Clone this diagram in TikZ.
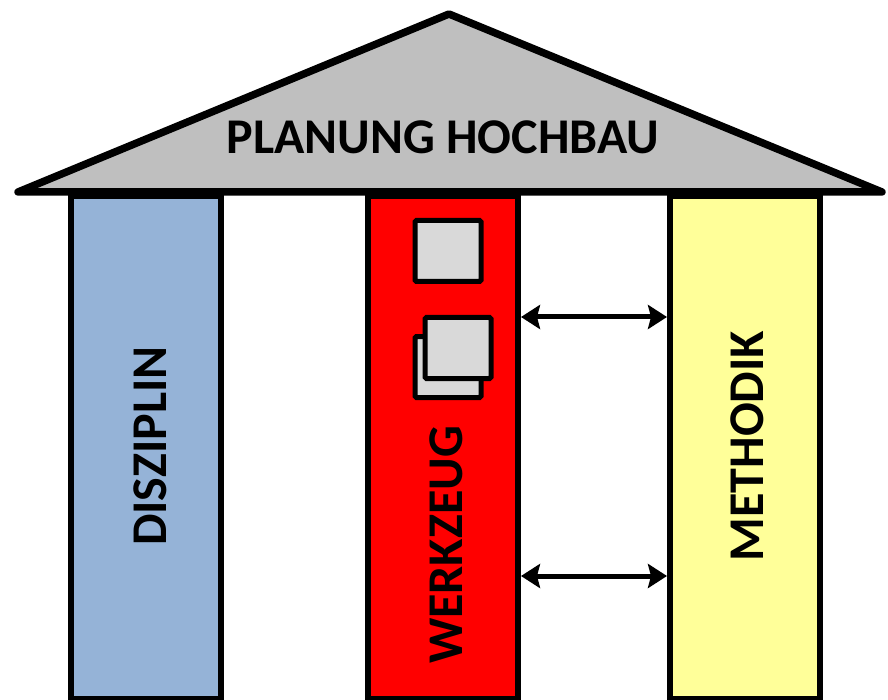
\documentclass[tikz,border=0pt]{standalone}
\usepackage{fontspec}
\setmainfont{Carlito}
\usetikzlibrary{arrows.meta}
\definecolor{roofgray}{HTML}{BFBFBF}
\definecolor{colblue}{HTML}{95B3D7}
\definecolor{colred}{HTML}{FF0000}
\definecolor{colyellow}{HTML}{FFFF99}
\definecolor{sqgray}{HTML}{D9D9D9}
\tikzset{
  col/.style={draw=black, line width=6pt, minimum width=150pt, minimum height=502pt, inner sep=0pt},
  lbl/.style={font=\fontsize{50}{50}\selectfont\bfseries, text=black, inner sep=0pt},
  sq/.style={draw=black, line width=5pt, fill=sqgray, rounded corners=1.5pt, minimum width=66pt, minimum height=61pt, inner sep=0pt},
  arr/.style={line width=5pt, {Stealth[width=24pt,length=19pt,inset=3pt]}-{Stealth[width=24pt,length=19pt,inset=3pt]}, shorten <=0pt, shorten >=0pt}
}
\begin{document}
\begin{tikzpicture}[x=1pt,y=-1pt]
\useasboundingbox (0,0) rectangle (888,700);
% columns
\node[col, fill=colblue]   (dis) at (146,447.5) {};
\node[col, fill=colred]    (wz)  at (443,447.5) {};
\node[col, fill=colyellow] (me)  at (745,447.5) {};
% roof
\coordinate (apex) at (449,14);
\coordinate (rl) at (18,192);
\coordinate (rr) at (882,192);
\draw[line width=7.5pt, line join=round, fill=roofgray] (rl) -- (apex) -- (rr) -- cycle;
\node[lbl] (title) at (443,137) {PLANUNG HOCHBAU};
% labels
\node[lbl, rotate=90] (tdis) at (150,446) {DISZIPLIN};
\node[lbl, rotate=90] (twz)  at (446,545) {WERKZEUG};
\node[lbl, rotate=90] (tme)  at (747,446) {METHODIK};
% icons
\node[sq] (s1) at (448,251) {};
\node[sq] (s2) at (448,367) {};
\node[sq] (s3) at (458,348) {};
% arrows
\coordinate (a1) at (590,317);
\coordinate (a2) at (590,576);
\draw[arr] (wz.east |- a1) -- (me.west |- a1);
\draw[arr] (wz.east |- a2) -- (me.west |- a2);
\end{tikzpicture}
\end{document}
